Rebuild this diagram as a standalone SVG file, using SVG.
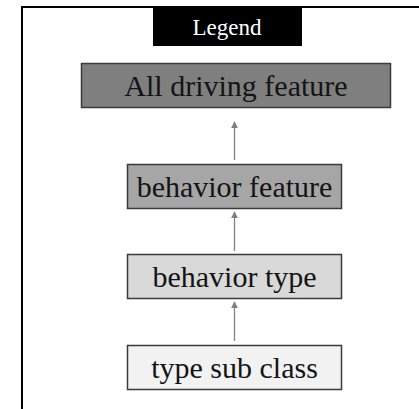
<svg xmlns="http://www.w3.org/2000/svg" width="419" height="409" viewBox="0 0 419 409">
<defs>
<style>
.box{stroke:#3a3a3a;stroke-width:1.5}
.lbl{font-family:"Liberation Serif","Times New Roman",serif;font-size:30px;fill:#141414;text-anchor:middle}
.conn{stroke:#808080;stroke-width:1.3;fill:none}
</style>
<marker id="ah" viewBox="0 0 10 10" refX="9" refY="5" markerWidth="7" markerHeight="7" markerUnits="userSpaceOnUse" orient="auto">
<path d="M0,0 L10,5 L0,10 z" fill="#808080"/>
</marker>
</defs>
<rect x="0" y="0" width="419" height="409" fill="#ffffff"/>
<rect id="frame" x="22" y="7" width="420" height="420" fill="none" stroke="#000" stroke-width="2"/>
<g id="legend">
<rect x="153" y="7" width="149" height="39" fill="#000"/>
<text x="227" y="35" font-family="Liberation Serif,serif" font-size="23" fill="#fff" text-anchor="middle">Legend</text>
</g>
<g id="n-all">
<rect class="box" x="81.5" y="63.5" width="309" height="44" fill="#7f7f7f"/>
<text class="lbl" x="236" y="96">All driving feature</text>
</g>
<g id="n-feature">
<rect class="box" x="127.5" y="164.5" width="214" height="44" fill="#a6a6a6"/>
<text class="lbl" x="234.5" y="197">behavior feature</text>
</g>
<g id="n-type">
<rect class="box" x="127.5" y="254.5" width="214" height="44" fill="#d9d9d9"/>
<text class="lbl" x="234.5" y="287">behavior type</text>
</g>
<g id="n-sub">
<rect class="box" x="127.5" y="345.5" width="214" height="44" fill="#f2f2f2"/>
<text class="lbl" x="234.5" y="378">type sub class</text>
</g>
<g id="connectors">
<line class="conn" x1="234.5" y1="160" x2="234.5" y2="122" marker-end="url(#ah)"/>
<line class="conn" x1="234.5" y1="251" x2="234.5" y2="212" marker-end="url(#ah)"/>
<line class="conn" x1="234.5" y1="341" x2="234.5" y2="302" marker-end="url(#ah)"/>
</g>
</svg>
